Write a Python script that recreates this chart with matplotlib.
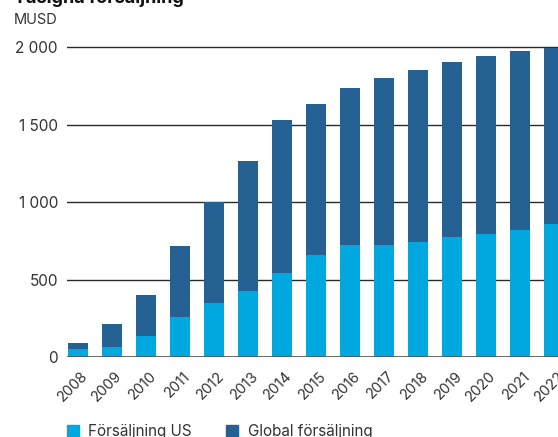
import matplotlib
matplotlib.use("Agg")
import matplotlib.pyplot as plt
from matplotlib.patches import Rectangle
from matplotlib.transforms import ScaledTranslation

plt.rcParams["font.family"] = ["Inter", "DejaVu Sans"]

years = ["2008", "2009", "2010", "2011", "2012", "2013", "2014", "2015",
         "2016", "2017", "2018", "2019", "2020", "2021", "2022"]
us_sales = [54, 66, 137, 260, 350, 428, 544, 660, 724, 724, 742, 774, 794, 819, 858]
global_sales = [92, 215, 402, 718, 1000, 1266, 1531, 1634, 1737, 1802, 1852,
                1903, 1942, 1974, 1995]
yticks = [0, 500, 1000, 1500, 2000]
ytick_labels = ["0", "500", "1 000", "1 500", "2 000"]

LIGHT = "#00a8e0"
DARK = "#266193"
TEXT = "#333333"

W, H = 558, 437
fig = plt.figure(figsize=(W / 100, H / 100), dpi=100)

# axes in pixel terms: left 67, baseline at y=357.3, 2010 at top
px_per_unit = 0.155
y_top_val = 2010
ax_left = 67 / W
ax_bottom = (H - 357.3) / H
ax_height = (y_top_val * px_per_unit) / H
ax_width = (W - 67) / W
ax = fig.add_axes([ax_left, ax_bottom, ax_width, ax_height])

x = list(range(len(years)))
ax.bar(x, global_sales, width=0.59, color=DARK, zorder=2)
ax.bar(x, us_sales, width=0.59, color=LIGHT, zorder=3)

ax.set_xlim(-11 / 34, 14 + 4 / 34)
ax.set_ylim(0, y_top_val)
ax.set_yticks(yticks)
ax.set_yticklabels(ytick_labels)
ax.yaxis.grid(True, color="#2a2a2a", linewidth=1.0, zorder=1)
ax.set_axisbelow(True)
for s in ax.spines.values():
    s.set_visible(False)
ax.axhline(0, color="#555555", linewidth=1.2, zorder=4)

ax.tick_params(axis="y", length=0, pad=6.5, labelsize=11, labelcolor=TEXT)
ax.tick_params(axis="x", length=0, pad=4, labelsize=10.5, labelcolor=TEXT)
ax.set_xticks(x)
ax.set_xticklabels(years, rotation=45, ha="right", va="center",
                   rotation_mode="anchor")
offset = ScaledTranslation(8 / 100, -11 / 100, fig.dpi_scale_trans)
for lbl in ax.get_xticklabels():
    lbl.set_transform(lbl.get_transform() + offset)

# title (partly above the top edge) and unit
fig.text(14 / W, (H - 3) / H, "Tasigna försäljning", fontsize=13,
         fontweight="bold", color="#111111", ha="left", va="baseline")
fig.text(14 / W, (H - 20) / H, "MUSD", fontsize=10.5, color=TEXT,
         ha="left", va="center")

# legend along the bottom edge
for (sx, col, tx, label) in [(67, LIGHT, 88, "Försäljning US"),
                             (226, DARK, 248, "Global försäljning")]:
    fig.patches.append(Rectangle((sx / W, (H - 437) / H), 12 / W, 12 / H,
                                 transform=fig.transFigure, color=col))
    fig.text(tx / W, (H - 436) / H, label, fontsize=11, color=TEXT,
             ha="left", va="baseline")

fig.savefig("out.png", dpi=100)
